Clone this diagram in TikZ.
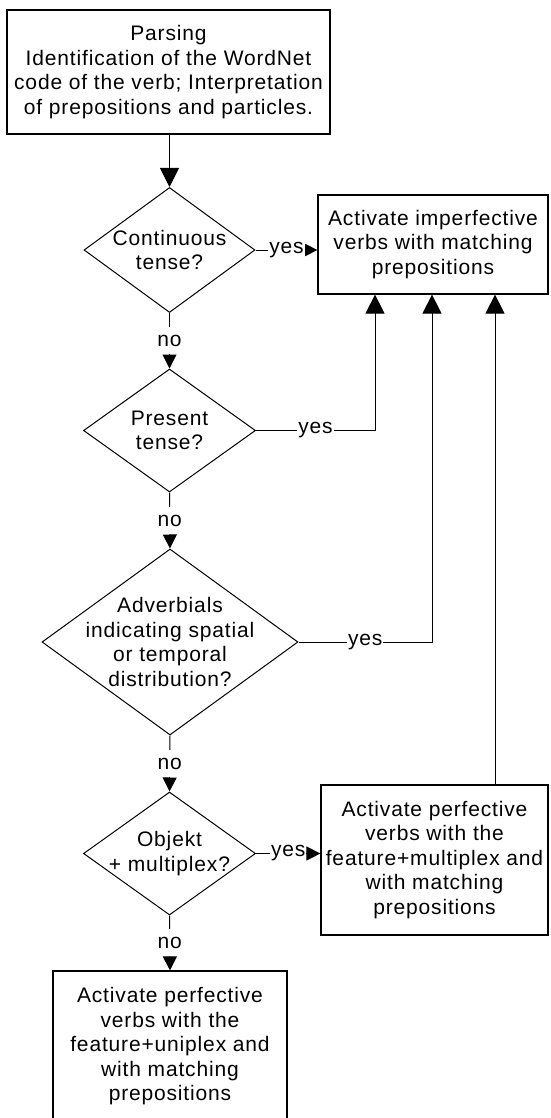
\documentclass[tikz,border=0pt]{standalone}
\usepackage{fontspec}
\setmainfont[LetterSpace=4]{Liberation Sans}
\usetikzlibrary{shapes.geometric,arrows.meta}
\begin{document}
\begin{tikzpicture}[x=1pt,y=-1pt,
  every node/.style={font=\fontsize{21}{24.5}\selectfont},
  box/.style={draw,line width=1.2pt,rectangle,align=center,inner sep=0pt},
  decision/.style={draw,line width=1pt,diamond,inner sep=0pt},
  txt/.style={align=center,inner sep=0pt},
  lbl/.style={fill=white,inner sep=1pt,minimum height=27pt},
  flow/.style={line width=1pt},
  bigarrow/.style={-{Triangle[width=19pt,length=19pt]}},
  smallarrow/.style={-{Triangle[width=14pt,length=14pt]}},
]
\useasboundingbox (0,0) rectangle (550,1118);

\node[box,minimum width=323pt,minimum height=124pt] (top) at (168.5,72)
  {Parsing\\Identification of the WordNet\\code of the verb; Interpretation\\of prepositions and particles.};

\node[decision,minimum width=171pt,minimum height=125pt] (d1) at (169.5,250) {};
\node[txt] (d1t) at (d1) {Continuous\\tense?};

\node[box,minimum width=230pt,minimum height=99pt] (imp) at (433,244.5)
  {Activate imperfective\\verbs with matching\\prepositions};

\node[decision,minimum width=172pt,minimum height=123pt] (d2) at (169.5,430.5) {};
\node[txt] (d2t) at (d2) {Present\\tense?};

\node[decision,minimum width=256pt,minimum height=186pt] (d3) at (170,642) {};
\node[txt] (d3t) at (d3) {Adverbials\\indicating spatial\\or temporal\\distribution?};

\node[decision,minimum width=172pt,minimum height=123pt] (d4) at (169.5,853.5) {};
\node[txt] (d4t) at (d4) {Objekt\\+ multiplex?};

\node[box,minimum width=227pt,minimum height=150pt] (mult) at (434.5,860)
  {Activate perfective\\verbs with the\\feature+multiplex and\\with matching\\prepositions};

\node[box,minimum width=234pt,minimum height=151pt] (bot) at (170,1046.5)
  {Activate perfective\\verbs with the\\feature+uniplex and\\with matching\\prepositions};

\coordinate (c2) at (375,300);
\coordinate (c3) at (432,300);
\coordinate (c4) at (495,300);

\draw[flow,bigarrow] (top.south -| d1.north) -- (d1.north);
\draw[flow,smallarrow] (d1.east) -- node[lbl]{yes} (d1.east -| imp.west);
\draw[flow,smallarrow] (d1.south) -- node[lbl]{no} (d2.north);
\draw[flow,bigarrow] (d2.east) -- node[lbl]{yes} (d2.east -| c2) -- (c2 |- imp.south);
\draw[flow,smallarrow] (d2.south) -- node[lbl]{no} (d3.north);
\draw[flow,bigarrow] (d3.east) -- node[lbl]{yes} (d3.east -| c3) -- (c3 |- imp.south);
\draw[flow,smallarrow] (d3.south) -- node[lbl]{no} (d4.north);
\draw[flow,smallarrow] (d4.east) -- node[lbl]{yes} (d4.east -| mult.west);
\draw[flow,bigarrow] (mult.north -| c4) -- (c4 |- imp.south);
\draw[flow,smallarrow] (d4.south) -- node[lbl]{no} (bot.north);
\end{tikzpicture}
\end{document}
